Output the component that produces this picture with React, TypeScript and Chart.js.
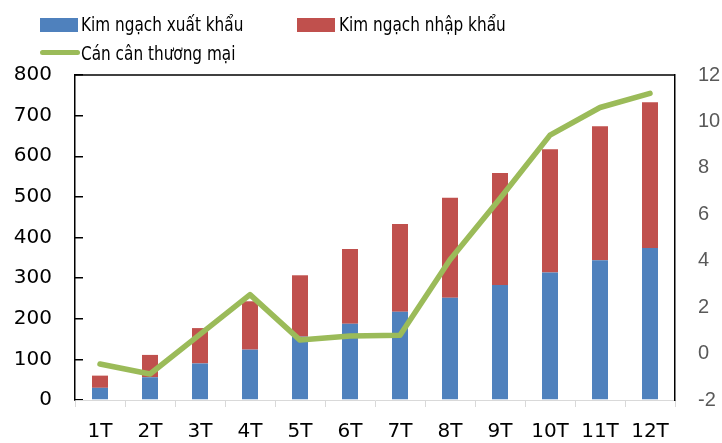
import React, { useEffect, useRef } from "react";
import { Chart, registerables } from "chart.js";

Chart.register(...registerables);

const categories = ["1T", "2T", "3T", "4T", "5T", "6T", "7T", "8T", "9T", "10T", "11T", "12T"];
const exportValues = [30, 56, 90, 124, 156, 188, 217, 252, 283, 314, 344, 374];
const importValues = [30, 55, 87, 119, 151, 184, 216, 246, 276, 303, 330, 359];
const balanceValues = [-0.45, -0.88, 0.83, 2.54, 0.58, 0.76, 0.79, 4.04, 6.68, 9.41, 10.6, 11.21];
const leftTicks = [0, 100, 200, 300, 400, 500, 600, 700, 800];
const rightTicks = [-2, 0, 2, 4, 6, 8, 10, 12];

const seriesNames = ["Kim ngạch xuất khẩu", "Kim ngạch nhập khẩu", "Cán cân thương mại"];
const BLUE = "#4f81bd";
const RED = "#c0504d";
const GREEN = "#9bbb59";

const legendFont = "'DejaVu Sans Condensed', sans-serif";

const frameBorder = {
  id: "frameBorder",
  afterDatasetsDraw(chart: any) {
    const { ctx, chartArea } = chart;
    ctx.save();
    ctx.strokeStyle = "#000";
    ctx.lineWidth = 1.5;
    ctx.beginPath();
    ctx.moveTo(chartArea.left, chartArea.top);
    ctx.lineTo(chartArea.right, chartArea.top);
    ctx.stroke();
    ctx.restore();
  },
};

export default function App() {
  const ref = useRef<HTMLCanvasElement | null>(null);

  useEffect(() => {
    if (!ref.current) return;
    const chart = new Chart(ref.current, {
      type: "bar",
      data: {
        labels: categories,
        datasets: [
          {
            type: "line",
            label: seriesNames[2],
            data: balanceValues,
            yAxisID: "y1",
            borderColor: GREEN,
            backgroundColor: GREEN,
            borderWidth: 5.5,
            pointRadius: 0,
            borderJoinStyle: "round",
            borderCapStyle: "round",
            tension: 0,
            order: 0,
          } as any,
          {
            label: seriesNames[0],
            data: exportValues,
            backgroundColor: BLUE,
            yAxisID: "y",
            stack: "s",
            order: 1,
            barPercentage: 0.32,
            categoryPercentage: 1,
          },
          {
            label: seriesNames[1],
            data: importValues,
            backgroundColor: RED,
            yAxisID: "y",
            stack: "s",
            order: 1,
            barPercentage: 0.32,
            categoryPercentage: 1,
          },
        ],
      },
      options: {
        responsive: false,
        animation: false,
        layout: { padding: { top: 75, bottom: 0, left: 0, right: 0 } },
        plugins: { legend: { display: false }, tooltip: { enabled: false } },
        scales: {
          x: {
            stacked: true,
            grid: {
              display: true,
              drawOnChartArea: false,
              offset: true,
              tickLength: 7,
              color: "#d9d9d9",
            },
            border: { color: "#d9d9d9", width: 1 },
            ticks: {
              color: "#000",
              font: { family: "'DejaVu Sans', sans-serif", size: 20 },
              padding: 13,
              maxRotation: 0,
              autoSkip: false,
            },
            afterFit: (s: any) => {
              s.height = 40;
            },
          },
          y: {
            stacked: true,
            position: "left",
            min: 0,
            max: 800,
            afterBuildTicks: (s: any) => {
              s.ticks = leftTicks.map((v) => ({ value: v }));
            },
            grid: {
              display: true,
              drawOnChartArea: false,
              tickLength: -8,
              color: "#000",
              lineWidth: 1.5,
            },
            border: { color: "#000", width: 1.5 },
            ticks: {
              color: "#000",
              font: { family: "'DejaVu Sans', sans-serif", size: 20 },
              padding: 31,
            },
            afterFit: (s: any) => {
              s.width = 75;
            },
          },
          y1: {
            position: "right",
            min: -2,
            max: 12,
            afterBuildTicks: (s: any) => {
              s.ticks = rightTicks.map((v) => ({ value: v }));
            },
            grid: { display: false, drawOnChartArea: false },
            border: { color: "#000", width: 1.5 },
            ticks: {
              color: "#595959",
              font: { family: "'Liberation Sans', sans-serif", size: 20 },
              padding: 15,
            },
            afterFit: (s: any) => {
              s.width = 47;
            },
          },
        },
      },
      plugins: [frameBorder],
    });
    return () => chart.destroy();
  }, []);

  const textStyle: React.CSSProperties = {
    position: "absolute",
    fontFamily: legendFont,
    fontSize: 20,
    lineHeight: "20px",
    color: "#000",
    whiteSpace: "nowrap",
    transform: "scaleX(0.85)",
    transformOrigin: "0 0",
  };

  return (
    <div style={{ position: "absolute", left: 0, top: 0, width: 722, height: 443, background: "#fff" }}>
      <canvas ref={ref} width={722} height={443} style={{ position: "absolute", left: 0, top: 0 }} />
      <div style={{ position: "absolute", left: 40, top: 18, width: 38, height: 14, background: BLUE }} />
      <div style={{ ...textStyle, left: 81, top: 14 }}>{seriesNames[0]}</div>
      <div style={{ position: "absolute", left: 297, top: 18, width: 38, height: 14, background: RED }} />
      <div style={{ ...textStyle, left: 339, top: 14 }}>{seriesNames[1]}</div>
      <div style={{ position: "absolute", left: 40, top: 50, width: 40, height: 5, background: GREEN, borderRadius: 2.5 }} />
      <div style={{ ...textStyle, left: 81, top: 43 }}>{seriesNames[2]}</div>
    </div>
  );
}
